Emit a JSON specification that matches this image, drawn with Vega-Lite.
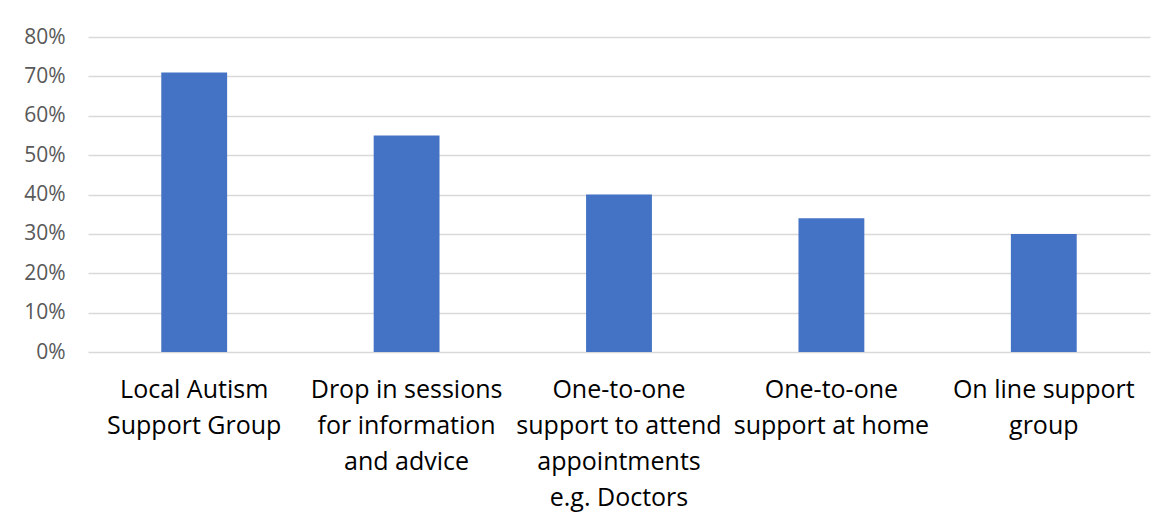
{
  "$schema": "https://vega.github.io/schema/vega-lite/v6.json",
  "autosize": {"type": "none"},
  "padding": {"left": 88, "top": 37, "right": 20, "bottom": 175},
  "width": 1062,
  "height": 315,
  "background": "white",
  "data": {
    "values": [
      {"category": "Local Autism Support Group", "value": 0.71},
      {"category": "Drop in sessions for information and advice", "value": 0.55},
      {"category": "One-to-one support to attend appointments e.g. Doctors", "value": 0.40},
      {"category": "One-to-one support at home", "value": 0.34},
      {"category": "On line support group", "value": 0.30}
    ]
  },
  "mark": {"type": "bar", "color": "#4472C4"},
  "encoding": {
    "x": {
      "field": "category",
      "type": "nominal",
      "sort": null,
      "scale": {"paddingInner": 0.69, "paddingOuter": 0.345},
      "axis": {
        "title": null,
        "labelAngle": 0,
        "domain": false,
        "ticks": false,
        "labelPadding": 25,
        "labelFont": "Open Sans",
        "labelFontSize": 25,
        "labelColor": "#000000",
        "labelLineHeight": 36,
        "labelBaseline": "top",
        "labelLimit": 400,
        "labelOverlap": false,
        "labelExpr": "datum.value == 'Local Autism Support Group' ? ['Local Autism', 'Support Group'] : datum.value == 'Drop in sessions for information and advice' ? ['Drop in sessions', 'for information', 'and advice'] : datum.value == 'One-to-one support to attend appointments e.g. Doctors' ? ['One-to-one', 'support to attend', 'appointments', 'e.g. Doctors'] : datum.value == 'One-to-one support at home' ? ['One-to-one', 'support at home'] : ['On line support', 'group']"
      }
    },
    "y": {
      "field": "value",
      "type": "quantitative",
      "scale": {"domain": [0, 0.8], "nice": false},
      "axis": {
        "title": null,
        "format": ".0%",
        "values": [0, 0.1, 0.2, 0.3, 0.4, 0.5, 0.6, 0.7, 0.8],
        "domain": false,
        "ticks": false,
        "labelOverlap": false,
        "labelPadding": 23,
        "labelFont": "Open Sans",
        "labelFontSize": 21,
        "labelColor": "#595959",
        "grid": true,
        "gridColor": "#D9D9D9",
        "gridWidth": 1.3
      }
    }
  },
  "config": {"view": {"stroke": null}}
}
